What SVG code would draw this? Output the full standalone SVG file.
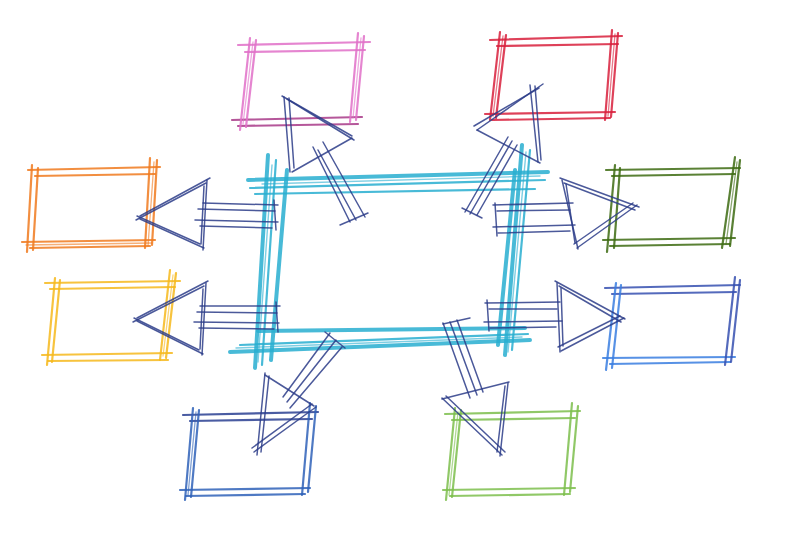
<svg xmlns="http://www.w3.org/2000/svg" width="800" height="533" viewBox="0 0 800 533">
<style>
line{stroke-linecap:round;fill:none}
.b line{stroke-width:2.2;opacity:.85}
.b .f{stroke-width:1.3;opacity:.6}
.pink line{stroke:#e070c8}
.pink .d{stroke:#a83a88}
.red line{stroke:#d8203c}
.orange line{stroke:#f07a1e}
.dgreen line{stroke:#3d6b12}
.yellow line{stroke:#f6b81c}
.rblue line{stroke:#3a7ee0}
.rblue .d{stroke:#3650b0}
.navy line{stroke:#2f62b8}
.navy .d{stroke:#2a3f92}
.lgreen line{stroke:#7cbe4c}
.center line{stroke:#28aed0;stroke-width:4;opacity:.85}
.center .t{stroke-width:2.2}
.center .f{stroke-width:1.4;opacity:.6}
#connectors line{stroke:#2b3c88;stroke-width:1.5;opacity:.85}
</style>
<rect width="800" height="533" fill="#ffffff"/>

<g id="center" class="center">
<line x1="248" y1="180" x2="548" y2="172"/>
<line class="t" x1="250" y1="188" x2="545" y2="180"/>
<line class="t" x1="255" y1="194" x2="535" y2="189"/>
<line class="f" x1="262" y1="184" x2="540" y2="176"/>
<line x1="230" y1="352" x2="530" y2="340"/>
<line class="t" x1="240" y1="345" x2="528" y2="334"/>
<line x1="258" y1="331" x2="525" y2="328"/>
<line class="f" x1="236" y1="348" x2="522" y2="337"/>
<line x1="268" y1="155" x2="255" y2="368"/>
<line class="t" x1="276" y1="160" x2="262" y2="365"/>
<line x1="287" y1="170" x2="271" y2="360"/>
<line class="f" x1="272" y1="165" x2="258" y2="362"/>
<line x1="522" y1="145" x2="505" y2="355"/>
<line class="t" x1="530" y1="150" x2="512" y2="350"/>
<line x1="515" y1="170" x2="498" y2="345"/>
<line class="f" x1="526" y1="152" x2="508" y2="352"/>
</g>

<g id="node-pink" class="b pink">
<line x1="238" y1="45" x2="370" y2="42"/>
<line x1="245" y1="52" x2="365" y2="50"/>
<line class="d" x1="232" y1="120" x2="362" y2="117"/>
<line class="d" x1="238" y1="126" x2="358" y2="124"/>
<line x1="250" y1="38" x2="240" y2="130"/>
<line x1="256" y1="40" x2="246" y2="127"/>
<line class="f" x1="253" y1="42" x2="243" y2="124"/>
<line x1="358" y1="33" x2="350" y2="122"/>
<line x1="364" y1="36" x2="356" y2="120"/>
<line class="f" x1="361" y1="38" x2="353" y2="118"/>
</g>

<g id="node-red" class="b red">
<line x1="490" y1="40" x2="622" y2="36"/>
<line x1="497" y1="46" x2="618" y2="44"/>
<line x1="485" y1="114" x2="615" y2="112"/>
<line x1="492" y1="120" x2="610" y2="118"/>
<line x1="500" y1="32" x2="490" y2="120"/>
<line x1="506" y1="35" x2="496" y2="118"/>
<line class="f" x1="503" y1="36" x2="493" y2="116"/>
<line x1="612" y1="30" x2="605" y2="120"/>
<line x1="618" y1="33" x2="611" y2="117"/>
<line class="f" x1="615" y1="34" x2="608" y2="116"/>
</g>

<g id="node-orange" class="b orange">
<line x1="28" y1="170" x2="160" y2="167"/>
<line x1="35" y1="176" x2="155" y2="174"/>
<line x1="22" y1="242" x2="155" y2="240"/>
<line x1="30" y1="248" x2="150" y2="246"/>
<line class="f" x1="26" y1="245" x2="152" y2="243"/>
<line x1="32" y1="165" x2="27" y2="252"/>
<line x1="38" y1="168" x2="33" y2="250"/>
<line x1="150" y1="158" x2="145" y2="248"/>
<line x1="157" y1="160" x2="152" y2="245"/>
<line class="f" x1="154" y1="162" x2="148" y2="246"/>
</g>

<g id="node-darkgreen" class="b dgreen">
<line x1="606" y1="170" x2="740" y2="168"/>
<line x1="612" y1="176" x2="735" y2="174"/>
<line x1="603" y1="240" x2="735" y2="238"/>
<line x1="610" y1="246" x2="730" y2="244"/>
<line x1="615" y1="165" x2="607" y2="252"/>
<line x1="620" y1="168" x2="614" y2="248"/>
<line x1="735" y1="157" x2="722" y2="248"/>
<line x1="740" y1="160" x2="730" y2="246"/>
<line class="f" x1="737" y1="162" x2="726" y2="244"/>
</g>

<g id="node-yellow" class="b yellow">
<line x1="45" y1="283" x2="180" y2="281"/>
<line x1="50" y1="289" x2="175" y2="287"/>
<line x1="42" y1="355" x2="172" y2="353"/>
<line x1="48" y1="361" x2="168" y2="360"/>
<line x1="55" y1="278" x2="47" y2="365"/>
<line x1="60" y1="280" x2="52" y2="362"/>
<line x1="170" y1="270" x2="160" y2="360"/>
<line x1="176" y1="273" x2="166" y2="358"/>
<line class="f" x1="173" y1="275" x2="163" y2="356"/>
</g>

<g id="node-blue" class="b rblue">
<line class="d" x1="605" y1="288" x2="740" y2="285"/>
<line class="d" x1="612" y1="294" x2="736" y2="292"/>
<line x1="603" y1="358" x2="735" y2="357"/>
<line x1="610" y1="364" x2="730" y2="362"/>
<line x1="616" y1="283" x2="606" y2="370"/>
<line x1="621" y1="285" x2="612" y2="368"/>
<line class="d" x1="735" y1="277" x2="725" y2="365"/>
<line class="d" x1="740" y1="280" x2="731" y2="362"/>
</g>

<g id="node-navy" class="b navy">
<line class="d" x1="183" y1="415" x2="318" y2="412"/>
<line class="d" x1="190" y1="421" x2="312" y2="419"/>
<line x1="180" y1="490" x2="310" y2="488"/>
<line x1="186" y1="496" x2="305" y2="494"/>
<line x1="193" y1="408" x2="185" y2="500"/>
<line x1="199" y1="410" x2="191" y2="497"/>
<line class="f" x1="196" y1="412" x2="188" y2="495"/>
<line x1="310" y1="403" x2="302" y2="495"/>
<line x1="316" y1="406" x2="308" y2="492"/>
</g>

<g id="node-lightgreen" class="b lgreen">
<line x1="445" y1="414" x2="580" y2="411"/>
<line x1="452" y1="420" x2="575" y2="418"/>
<line x1="443" y1="490" x2="575" y2="488"/>
<line x1="450" y1="496" x2="570" y2="494"/>
<line x1="455" y1="408" x2="446" y2="500"/>
<line x1="461" y1="410" x2="452" y2="497"/>
<line class="f" x1="458" y1="412" x2="449" y2="495"/>
<line x1="572" y1="403" x2="564" y2="495"/>
<line x1="578" y1="406" x2="570" y2="492"/>
</g>

<g id="connectors">
<line x1="140" y1="216" x2="210" y2="178"/>
<line x1="136" y1="220" x2="206" y2="183"/>
<line x1="140" y1="219" x2="204" y2="248"/>
<line x1="137" y1="216" x2="200" y2="244"/>
<line x1="207" y1="180" x2="203" y2="250"/>
<line x1="204" y1="186" x2="201" y2="244"/>
<line x1="203" y1="203" x2="278" y2="205"/>
<line x1="198" y1="209" x2="275" y2="211"/>
<line x1="195" y1="220" x2="278" y2="222"/>
<line x1="200" y1="226" x2="272" y2="228"/>
<line x1="274" y1="200" x2="276" y2="230"/>

<line x1="137" y1="318" x2="208" y2="281"/>
<line x1="133" y1="322" x2="204" y2="286"/>
<line x1="137" y1="321" x2="203" y2="354"/>
<line x1="134" y1="318" x2="199" y2="350"/>
<line x1="206" y1="283" x2="202" y2="355"/>
<line x1="203" y1="289" x2="200" y2="349"/>
<line x1="200" y1="306" x2="280" y2="306"/>
<line x1="197" y1="312" x2="277" y2="313"/>
<line x1="194" y1="322" x2="279" y2="323"/>
<line x1="199" y1="328" x2="274" y2="329"/>
<line x1="276" y1="302" x2="278" y2="332"/>

<line x1="560" y1="178" x2="639" y2="207"/>
<line x1="564" y1="183" x2="635" y2="210"/>
<line x1="577" y1="248" x2="637" y2="205"/>
<line x1="574" y1="244" x2="633" y2="203"/>
<line x1="562" y1="180" x2="578" y2="249"/>
<line x1="566" y1="184" x2="575" y2="243"/>
<line x1="493" y1="205" x2="573" y2="203"/>
<line x1="497" y1="211" x2="570" y2="210"/>
<line x1="493" y1="227" x2="575" y2="225"/>
<line x1="498" y1="233" x2="570" y2="231"/>
<line x1="495" y1="203" x2="497" y2="236"/>

<line x1="555" y1="281" x2="625" y2="319"/>
<line x1="559" y1="286" x2="621" y2="322"/>
<line x1="561" y1="351" x2="624" y2="318"/>
<line x1="558" y1="347" x2="620" y2="316"/>
<line x1="557" y1="283" x2="560" y2="352"/>
<line x1="561" y1="288" x2="563" y2="346"/>
<line x1="485" y1="303" x2="560" y2="302"/>
<line x1="489" y1="309" x2="557" y2="309"/>
<line x1="484" y1="322" x2="562" y2="321"/>
<line x1="490" y1="328" x2="556" y2="327"/>
<line x1="487" y1="300" x2="489" y2="331"/>

<line x1="282" y1="96" x2="352" y2="136"/>
<line x1="287" y1="99" x2="354" y2="140"/>
<line x1="284" y1="97" x2="290" y2="172"/>
<line x1="289" y1="98" x2="294" y2="168"/>
<line x1="352" y1="138" x2="292" y2="172"/>
<line x1="313" y1="147" x2="350" y2="222"/>
<line x1="318" y1="150" x2="356" y2="220"/>
<line x1="323" y1="142" x2="365" y2="217"/>
<line x1="340" y1="225" x2="368" y2="213"/>

<line x1="543" y1="84" x2="477" y2="130"/>
<line x1="539" y1="88" x2="474" y2="126"/>
<line x1="530" y1="85" x2="538" y2="162"/>
<line x1="535" y1="86" x2="541" y2="160"/>
<line x1="477" y1="130" x2="540" y2="163"/>
<line x1="508" y1="137" x2="465" y2="212"/>
<line x1="517" y1="145" x2="477" y2="215"/>
<line x1="512" y1="141" x2="470" y2="214"/>
<line x1="462" y1="208" x2="482" y2="218"/>

<line x1="265" y1="373" x2="257" y2="455"/>
<line x1="269" y1="376" x2="261" y2="452"/>
<line x1="316" y1="407" x2="254" y2="452"/>
<line x1="312" y1="404" x2="252" y2="448"/>
<line x1="265" y1="375" x2="314" y2="406"/>
<line x1="283" y1="397" x2="330" y2="333"/>
<line x1="290" y1="408" x2="342" y2="347"/>
<line x1="287" y1="402" x2="336" y2="340"/>
<line x1="325" y1="332" x2="345" y2="348"/>

<line x1="442" y1="398" x2="502" y2="455"/>
<line x1="446" y1="396" x2="505" y2="452"/>
<line x1="508" y1="383" x2="500" y2="456"/>
<line x1="505" y1="386" x2="497" y2="452"/>
<line x1="442" y1="399" x2="509" y2="382"/>
<line x1="443" y1="323" x2="470" y2="398"/>
<line x1="450" y1="322" x2="477" y2="395"/>
<line x1="457" y1="320" x2="483" y2="392"/>
<line x1="443" y1="324" x2="470" y2="318"/>
</g>
</svg>
